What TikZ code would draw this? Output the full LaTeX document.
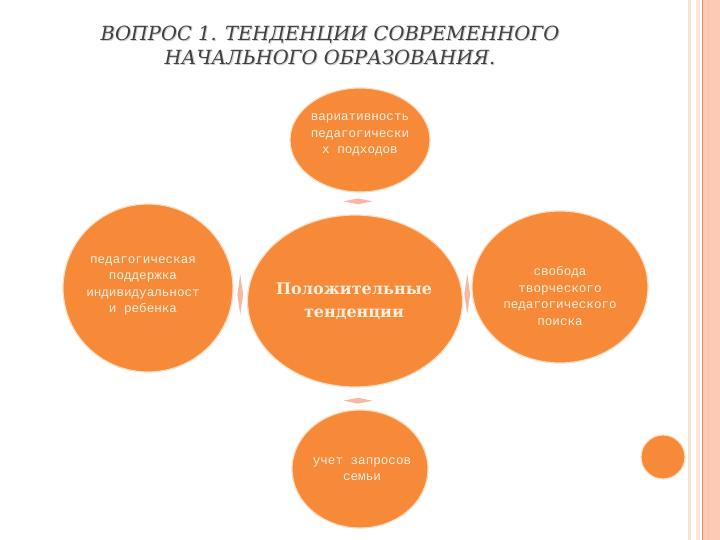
\documentclass[tikz,border=0pt]{standalone}
\usepackage{fontspec}
\setmainfont{Liberation Serif}
\newfontfamily\titlefont{DejaVu Serif}
\newfontfamily\boldserif{DejaVu Serif}
\newfontfamily\ellfont{Liberation Mono}
\usetikzlibrary{calc,shapes.geometric}
\definecolor{org}{RGB}{246,138,57}
\definecolor{glow}{RGB}{252,222,196}
\definecolor{cream}{RGB}{255,240,222}
\definecolor{pale}{RGB}{246,184,162}
\definecolor{band}{RGB}{253,202,182}
\definecolor{bandline}{RGB}{238,140,100}
\definecolor{beige}{RGB}{244,226,212}
\definecolor{titlegray}{RGB}{64,64,64}
\tikzset{
  blob/.style={ellipse, fill=org, draw=glow, line width=1.2pt, inner sep=0pt},
  blobtext/.style={text=cream, align=center, inner sep=0pt, font=\ellfont\fontsize{12.6}{16.4}\selectfont},
  hbar/.style={diamond, aspect=6, fill=pale, inner sep=0pt, minimum width=29pt, minimum height=6pt},
  vbar/.style={diamond, aspect=0.16, fill=pale, inner sep=0pt, minimum width=6pt, minimum height=40pt},
  titlestyle/.style={align=center, inner sep=0pt, font=\titlefont\itshape\fontsize{19.5}{24}\selectfont}
}
\begin{document}
\begin{tikzpicture}[x=1pt,y=-1pt]
\useasboundingbox (0,0) rectangle (720,540);
\fill[white] (0,0) rectangle (720,540);
% right decorative band
\fill[beige] (688,0) rectangle (691,540);
\fill[beige!80] (696,0) rectangle (700,540);
\fill[band] (702,0) rectangle (720,540);
\draw[bandline, line width=1pt] (702.5,0) -- (702.5,540);
\draw[band!85!bandline, line width=0.8pt] (708,0) -- (708,540);
% title
\node[titlestyle, text=black!20] (tshadow) at (331,46) {ВОПРОС 1. ТЕНДЕНЦИИ СОВРЕМЕННОГО\\НАЧАЛЬНОГО ОБРАЗОВАНИЯ.};
\node[titlestyle, text=titlegray] (title) at (330,45) {ВОПРОС 1. ТЕНДЕНЦИИ СОВРЕМЕННОГО\\НАЧАЛЬНОГО ОБРАЗОВАНИЯ.};
% ellipses
\node[blob, minimum width=140pt, minimum height=104pt] (top) at (360,140) {};
\node[blob, minimum width=170pt, minimum height=168pt] (left) at (148,288) {};
\node[blob, minimum width=215pt, minimum height=172pt] (c) at (355,301) {};
\node[blob, minimum width=176pt, minimum height=152pt] (right) at (560,287) {};
\node[blob, minimum width=136pt, minimum height=118pt] (bot) at (360,469) {};
\node[blob, minimum width=44pt, minimum height=44pt] (dot) at (663,457) {};
% texts
\node[blobtext] (ttop) at (360,135) {вариативность\\педагогически\\х подходов};
\node[blobtext] (tleft) at (143,286) {педагогическая\\поддержка\\индивидуальност\\и ребенка};
\node[blobtext] (tright) at (560,296) {свобода\\творческого\\педагогического\\поиска};
\node[blobtext] (tbot) at (362,469) {учет запросов\\семьи};
\node[text=cream, align=center, inner sep=0pt, font=\boldserif\bfseries\fontsize{16}{23}\selectfont] (tc) at (354,301) {Положительные\\тенденции};
% connectors
\node[hbar] (a1) at ($(top.south)!0.4!(c.north)$) {};
\node[vbar] (a2) at ($(left.east)!0.5!(c.west)$) {};
\node[vbar] (a3) at ($(c.east)!0.5!(right.west)$) {};
\node[hbar] (a4) at ($(c.south)!0.6!(bot.north)$) {};
\end{tikzpicture}
\end{document}
